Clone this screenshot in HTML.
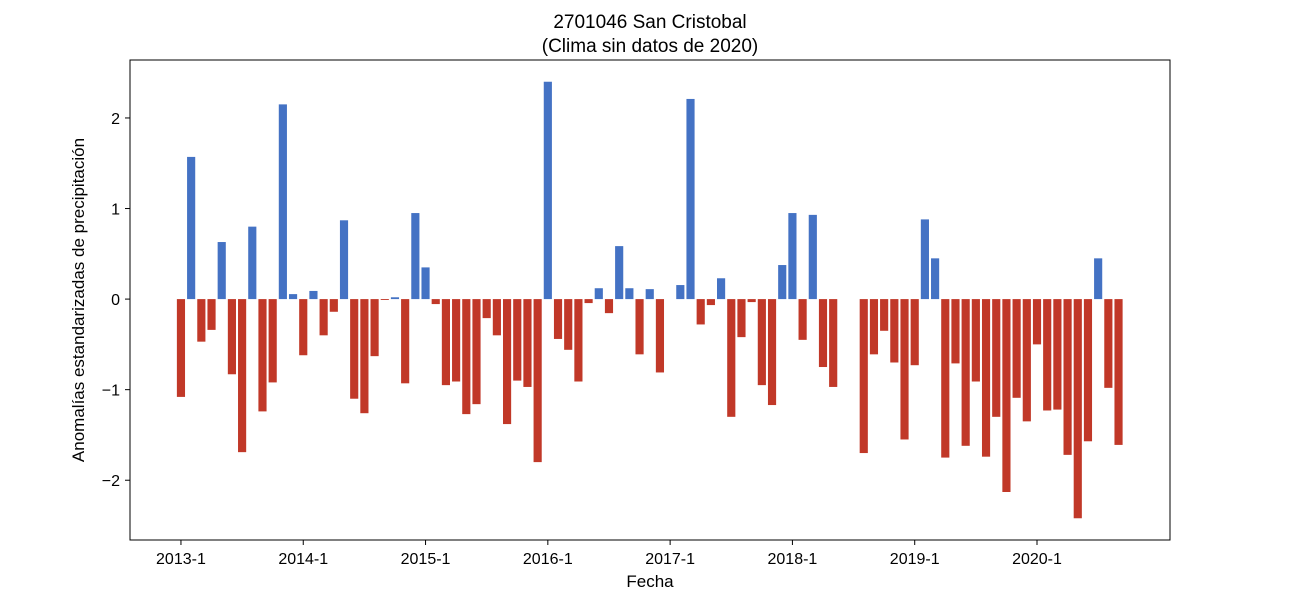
<!DOCTYPE html>
<html><head><meta charset="utf-8"><style>
body{margin:0;background:#fff}
svg text{font-family:"Liberation Sans","DejaVu Sans",sans-serif;fill:#000}
</style></head><body>
<svg id="chart" width="1300" height="600" xmlns="http://www.w3.org/2000/svg">
<rect width="1300" height="600" fill="#fff"/>
<text x="650" y="28" font-size="19" text-anchor="middle">2701046 San Cristobal</text>
<text x="650" y="52" font-size="19" text-anchor="middle">(Clima sin datos de 2020)</text>
<g id="bars"></g>
<g id="axes"></g>
<rect x="130" y="60" width="1040" height="480" fill="none" stroke="#000" stroke-width="1"/>
<text x="650" y="587" font-size="17" text-anchor="middle">Fecha</text>
<text transform="translate(84,300) rotate(-90)" font-size="17" text-anchor="middle">Anomalías estandarizadas de precipitación</text>
</svg>
<script>
// index = months since 2013-1; null = missing
const values = [-1.08,1.57,-0.47,-0.34,0.63,-0.83,-1.69,0.80,-1.24,-0.92,2.15,0.055,
-0.62,0.09,-0.40,-0.14,0.87,-1.10,-1.26,-0.63,-0.01,0.02,-0.93,0.95,
0.35,-0.055,-0.95,-0.91,-1.27,-1.16,-0.21,-0.40,-1.38,-0.90,-0.97,-1.80,
2.40,-0.44,-0.56,-0.91,-0.044,0.12,-0.155,0.585,0.12,-0.61,0.11,-0.81,
null,0.155,2.21,-0.28,-0.066,0.23,-1.30,-0.42,-0.033,-0.95,-1.17,0.376,
0.95,-0.45,0.93,-0.75,-0.97,null,null,-1.70,-0.61,-0.35,-0.70,-1.55,
-0.73,0.88,0.45,-1.75,-0.71,-1.62,-0.91,-1.74,-1.30,-2.13,-1.09,-1.35,
-0.50,-1.23,-1.22,-1.72,-2.42,-1.57,0.45,-0.98,-1.61];
const xTickIdx = [0,12,24,36,48,60,72,84];
const xTickLabels = ["2013-1","2014-1","2015-1","2016-1","2017-1","2018-1","2019-1","2020-1"];
const yTicks = [-2,-1,0,1,2];
const yTickLabels = ["\u22122","\u22121","0","1","2"];

const NS="http://www.w3.org/2000/svg";
const X0=130,X1=1170,Y0=60,Y1=540;
const xMin=-5.0,xMax=97.05,yMin=-2.66,yMax=2.64;
const xs=i=>X0+(i-xMin)/(xMax-xMin)*(X1-X0);
const ys=v=>Y1-(v-yMin)/(yMax-yMin)*(Y1-Y0);
const bw=0.8*(X1-X0)/(xMax-xMin);
const bars=document.getElementById('bars');
values.forEach((v,i)=>{
  if(v===null) return;
  const r=document.createElementNS(NS,'rect');
  
  
  const y0=ys(0),y1=ys(v);
  r.setAttribute('x',xs(i)-bw/2);
  r.setAttribute('width',bw);
  r.setAttribute('y',Math.min(y0,y1));
  r.setAttribute('height',Math.abs(y1-y0));
  r.setAttribute('fill',v>=0?'#4472c4':'#c13828');
  bars.appendChild(r);
});
const axes=document.getElementById('axes');
xTickIdx.forEach((t,k)=>{
  const x=xs(t);
  const l=document.createElementNS(NS,'line');
  
  
  l.setAttribute('x1',x);l.setAttribute('x2',x);l.setAttribute('y1',540);l.setAttribute('y2',545);
  l.setAttribute('stroke','#000');
  axes.appendChild(l);
  const tx=document.createElementNS(NS,'text');
  
  
  tx.setAttribute('x',x);tx.setAttribute('y',564);
  tx.setAttribute('font-size','16');tx.setAttribute('text-anchor','middle');
  tx.textContent=xTickLabels[k];
  axes.appendChild(tx);
});
yTicks.forEach((t,k)=>{
  const y=ys(t);
  const l=document.createElementNS(NS,'line');
  
  
  l.setAttribute('x1',125);l.setAttribute('x2',130);l.setAttribute('y1',y);l.setAttribute('y2',y);
  l.setAttribute('stroke','#000');
  axes.appendChild(l);
  const tx=document.createElementNS(NS,'text');
  
  
  tx.setAttribute('x',120);tx.setAttribute('y',y+6);
  tx.setAttribute('font-size','16');tx.setAttribute('text-anchor','end');
  tx.textContent=yTickLabels[k];
  axes.appendChild(tx);
});
</script>
</body></html>
